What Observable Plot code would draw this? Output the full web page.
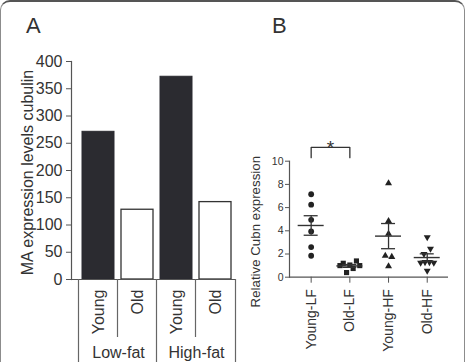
<!DOCTYPE html>
<html><head><meta charset="utf-8">
<script src="https://cdn.jsdelivr.net/npm/d3@7"></script>
<script src="https://cdn.jsdelivr.net/npm/@observablehq/plot@0.6"></script>
<style>
html,body{margin:0;padding:0;background:#fff;}
#wrap{position:relative;width:465px;height:362px;overflow:hidden;background:#fff;font-family:"Liberation Sans",Arial,Helvetica,sans-serif;color:#333;}
#border{position:absolute;left:0;top:0;width:465px;height:400px;border:1px solid #8c8c8c;border-top:2px solid #555;border-radius:10px;box-sizing:border-box;}
.letter{position:absolute;font-size:22px;line-height:22px;color:#333;}
.panel{position:absolute;top:0;}
</style></head>
<body>
<div id="wrap">
  <div id="border"></div>
  <div class="letter" style="left:26px;top:15px">A</div>
  <div class="letter" style="left:272px;top:15px">B</div>
  <div id="pa" class="panel" style="left:0"></div>
  <div id="pb" class="panel" style="left:240px"></div>
</div>
<script>
// ---------- Panel A data ----------
const dietA = ["Low-fat", "Low-fat", "High-fat", "High-fat"];
const ageA = ["Young", "Old", "Young", "Old"];
const cubulinA = [271, 128, 372, 142];
const yTicksA = [0, 50, 100, 150, 200, 250, 300, 350, 400];
const yLabelA = "MA expression levels cubulin";

// ---------- Panel B data ----------
const groupsB = ["Young-LF", "Old-LF", "Young-HF", "Old-HF"];
const youngLF = [7.15, 6.25, 4.95, 3.95, 2.6, 1.85];
const oldLF = [1.0, 1.2, 0.4, 1.05, 0.75, 1.4, 1.0];
const youngHF = [8.1, 4.85, 3.75, 1.85, 1.75, 0.95];
const oldHF = [3.45, 2.0, 2.45, 1.25, 1.3, 1.3, 1.25, 0.55];
const yTicksB = [0, 2, 4, 6, 8, 10];
const yLabelB = "Relative Cubn expression";
const sigFrom = ["Young-LF"];
const sigTo = ["Old-LF"];
const sigText = ["*"];

const FONT = '"Liberation Sans", Arial, Helvetica, sans-serif';
const INK = "#333";
const AXIS = "#555";

// ================= Panel A =================
const rowsA = dietA.map((d, i) => ({key: d + "|" + ageA[i], diet: d, age: ageA[i], value: cubulinA[i]}));
const keysA = rowsA.map(d => d.key);
const A = {width: 240, height: 362, mt: 61, mb: 83, ml: 71, mr: 5};
const frameHA = A.height - A.mt - A.mb;
const stepA = (A.width - A.ml - A.mr) / (keysA.length - 0.175 + 2 * 0.1375);

const plotA = Plot.plot({
  width: A.width, height: A.height,
  marginTop: A.mt, marginBottom: A.mb, marginLeft: A.ml, marginRight: A.mr,
  style: {fontFamily: FONT, fontSize: "16px", color: INK, background: "transparent", overflow: "visible"},
  x: {domain: keysA, paddingInner: 0.175, paddingOuter: 0.1375, align: 0.73},
  y: {domain: [0, 400]},
  marks: [
    Plot.barY(rowsA.filter(d => d.age === "Young"), {x: "key", y: "value", fill: "#2b2b30", stroke: "#2b2b30", strokeWidth: 1}),
    Plot.barY(rowsA.filter(d => d.age === "Old"), {x: "key", y: "value", fill: "white", stroke: "#333", strokeWidth: 1.3}),
    Plot.axisY({ticks: yTicksA, tickSize: 5, tickPadding: 4, label: null, fontSize: 16, stroke: AXIS}),
    Plot.frame({anchor: "left", stroke: AXIS, strokeWidth: 1.2}),
    Plot.ruleY([0], {stroke: AXIS, strokeWidth: 1.2}),
    Plot.axisX({tickSize: 0, tickRotate: -90, tickPadding: 10, fontSize: 16, label: null,
      tickFormat: k => ageA[keysA.indexOf(k)]}),
    // group boundaries (full height) and inner separators
    Plot.ruleX(rowsA.filter(d => d.age === "Young"), {x: "key", dx: -stepA / 2, insetTop: frameHA, insetBottom: -A.mb, stroke: "#666", strokeWidth: 1.2}),
    Plot.ruleX(rowsA.slice(-1), {x: "key", dx: stepA / 2, insetTop: frameHA, insetBottom: -A.mb, stroke: "#666", strokeWidth: 1.2}),
    Plot.ruleX(rowsA.filter(d => d.age === "Old"), {x: "key", dx: -stepA / 2, insetTop: frameHA, insetBottom: -58, stroke: "#666", strokeWidth: 1.2}),
    Plot.text(rowsA.filter(d => d.age === "Young"), {x: "key", text: "diet", frameAnchor: "bottom", dx: stepA / 2, dy: 78, fontSize: 16, fill: INK}),
    Plot.text([yLabelA], {text: d => d, frameAnchor: "left", textAnchor: "middle", rotate: -90, dx: -44, dy: 2, fontSize: 16, fill: INK})
  ]
});
document.getElementById("pa").append(plotA);

// ================= Panel B =================
const B = {width: 225, height: 362, mt: 160.7, mb: 85.3, ml: 49, mr: 17};
const xDomB = [-0.56, 3.55];
const yDomB = [0, 10];
const kX = (B.width - B.ml - B.mr) / (xDomB[1] - xDomB[0]);
const kY = (B.height - B.mt - B.mb) / (yDomB[1] - yDomB[0]);

// Prism-like scatter: points at (nearly) the same height are spread side by side
function spread(values) {
  const idx = d3.range(values.length).sort((a, b) => values[a] - values[b]);
  const rows = [];
  let cur = [];
  idx.forEach((j, n) => {
    if (n && (values[j] - values[idx[n - 1]]) * kY > 5.5) { rows.push(cur); cur = []; }
    cur.push(j);
  });
  rows.push(cur);
  const off = new Array(values.length).fill(0);
  rows.forEach(r => {
    r.sort((a, b) => a - b);
    const s = r.length <= 2 ? 6.5 : r.length <= 4 ? 4.4 : 3.3;
    r.forEach((j, k) => { off[j] = (k - (r.length - 1) / 2) * s; });
  });
  return off;
}

const seriesB = [youngLF, oldLF, youngHF, oldHF];
const pointsB = seriesB.map((vals, gi) => {
  const off = spread(vals);
  return vals.map((v, j) => ({group: groupsB[gi], gi, x: gi + off[j] / kX, value: v}));
});
const statsB = seriesB.map((vals, gi) => {
  const m = d3.mean(vals);
  const sem = d3.deviation(vals) / Math.sqrt(vals.length);
  return {gi, group: groupsB[gi], mean: m, lo: m - sem, hi: m + sem};
});

const triangleDown = {
  draw(context, size) {
    const y = Math.sqrt(size / (Math.sqrt(3) * 3));
    context.moveTo(0, 2 * y);
    context.lineTo(-Math.sqrt(3) * y, -y);
    context.lineTo(Math.sqrt(3) * y, -y);
    context.closePath();
  }
};
const symbolsB = ["circle", "square", "triangle", triangleDown];
const radiusB = [2.9, 2.9, 2.6, 2.6];

const bracketY = 11.2, bracketLeg = 0.9;
const brackets = sigFrom.map((f, i) => {
  const a = groupsB.indexOf(f), b = groupsB.indexOf(sigTo[i]);
  return {label: sigText[i], mid: (a + b) / 2,
    path: [[a, bracketY - bracketLeg], [a, bracketY], [b, bracketY], [b, bracketY - bracketLeg]]};
});

const plotB = Plot.plot({
  width: B.width, height: B.height,
  marginTop: B.mt, marginBottom: B.mb, marginLeft: B.ml, marginRight: B.mr,
  style: {fontFamily: FONT, fontSize: "11px", color: INK, background: "transparent", overflow: "visible"},
  x: {domain: xDomB},
  y: {domain: yDomB},
  marks: [
    Plot.frame({anchor: "left", stroke: AXIS, strokeWidth: 1.2}),
    Plot.ruleY([0], {stroke: AXIS, strokeWidth: 1.2}),
    Plot.axisY({ticks: yTicksB, tickSize: 4, tickPadding: 2, fontSize: 10.5, label: null, stroke: AXIS}),
    Plot.axisX({ticks: d3.range(groupsB.length), tickFormat: i => groupsB[i], tickRotate: -90,
      tickSize: 6, tickPadding: 6, fontSize: 14, label: null, stroke: AXIS}),
    ...pointsB.map((pts, gi) => Plot.dot(pts, {x: "x", y: "value", symbol: symbolsB[gi], r: radiusB[gi], fill: "#222", stroke: "none"})),
    Plot.ruleX(statsB, {x: "gi", y1: "lo", y2: "hi", stroke: INK, strokeWidth: 1.3}),
    Plot.ruleY(statsB, {y: "mean", x1: d => d.gi - 13 / kX, x2: d => d.gi + 13 / kX, stroke: INK, strokeWidth: 1.4}),
    Plot.ruleY(statsB, {y: "lo", x1: d => d.gi - 7 / kX, x2: d => d.gi + 7 / kX, stroke: INK, strokeWidth: 1.3}),
    Plot.ruleY(statsB, {y: "hi", x1: d => d.gi - 7 / kX, x2: d => d.gi + 7 / kX, stroke: INK, strokeWidth: 1.3}),
    ...brackets.map(b => Plot.line(b.path, {x: d => d[0], y: d => d[1], stroke: INK, strokeWidth: 1.3})),
    Plot.text(brackets, {x: "mid", y: () => bracketY, text: "label", dy: 1, fontSize: 19, fill: INK}),
    Plot.text([yLabelB], {text: d => d, frameAnchor: "left", textAnchor: "middle", rotate: -90, dx: -34, dy: 12.5, fontSize: 13.3, fill: INK})
  ]
});
document.getElementById("pb").append(plotB);
</script>
</body></html>
